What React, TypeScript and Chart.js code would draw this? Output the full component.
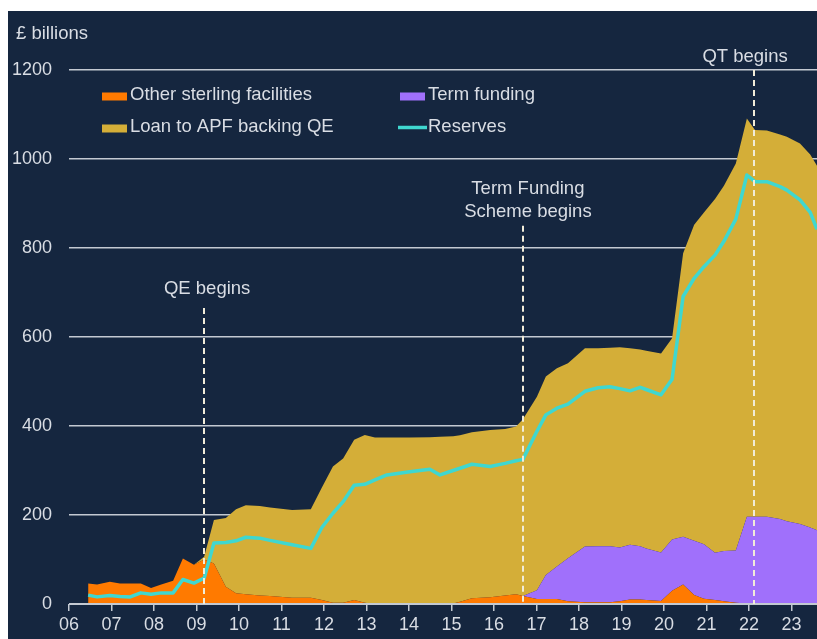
import React, { useEffect, useRef } from 'react';
import { Chart, registerables } from 'chart.js';

Chart.register(...registerables);
Chart.defaults.font.family = '"Liberation Sans", Arial, Helvetica, sans-serif';

// Decimal years of each observation
const DATES = [
  2006.45, 2006.66, 2006.96, 2007.2, 2007.44, 2007.69, 2007.93, 2008.17, 2008.45, 2008.68, 2008.94,
  2009.18, 2009.41, 2009.69, 2009.93, 2010.16, 2010.49, 2010.73, 2011.25, 2011.69, 2011.95,
  2012.21, 2012.45, 2012.71, 2012.96, 2013.2, 2013.48, 2014.02, 2014.49, 2014.73,
  2015.04, 2015.2, 2015.48, 2015.91, 2016.26, 2016.52, 2016.68,
  2017.01, 2017.22, 2017.48, 2017.74, 2018.14, 2018.45, 2018.73, 2018.96,
  2019.2, 2019.44, 2019.58, 2019.93, 2020.19,
  2020.45, 2020.71, 2020.94, 2021.2, 2021.41, 2021.69, 2021.95,
  2022.14, 2022.42, 2022.73, 2022.89, 2023.2, 2023.44, 2023.6,
];

// £ billions
const OTHER_FACILITIES = [
  46, 44, 50, 46, 46, 46, 36, 44, 52, 102, 88,
  100, 91, 39, 24, 22, 19, 18, 14, 14, 9,
  3, 3, 9, 3, 0, 0, 0, 0, 0,
  1, 5, 13, 15, 19, 22, 18,
  11, 11, 11, 6, 4, 4, 4, 6,
  10, 10, 9, 7, 30,
  44, 20, 12, 9, 6, 3, 1,
  0, 0, 0, 0, 0, 0, 0,
];

const TERM_FUNDING = [
  0, 0, 0, 0, 0, 0, 0, 0, 0, 0, 0,
  0, 0, 0, 0, 0, 0, 0, 0, 0, 0,
  0, 0, 0, 0, 0, 0, 0, 0, 0,
  0, 0, 0, 0, 0, 0, 0,
  20, 54, 73, 97, 125, 126, 126, 121,
  123, 120, 116, 109, 115,
  107, 122, 122, 106, 113, 117, 195,
  196, 196, 191, 186, 180, 172, 166,
];

const APF_LOAN = [
  0, 0, 0, 0, 0, 0, 0, 0, 0, 0, 0,
  6, 98, 154, 189, 200, 201, 199, 197, 199, 253,
  306, 324, 360, 377, 374, 374, 374, 375, 376,
  376, 374, 373, 376, 374, 377, 397,
  435, 446, 446, 438, 446, 445, 446, 450,
  442, 442, 444, 447, 452,
  637, 710, 746, 795, 821, 870, 895,
  869, 868, 864, 864, 855, 838, 819,
];

const RESERVES = [
  20, 16, 19, 17, 16, 25, 22, 25, 25, 55, 47,
  58, 137, 138, 142, 150, 148, 143, 133, 125, 172,
  204, 230, 267, 269, 279, 290, 297, 303, 290,
  300, 305, 314, 309, 316, 322, 325,
  388, 425, 440, 449, 478, 486, 488, 484,
  479, 487, 482, 470, 505,
  691, 732, 758, 784, 815, 865, 964,
  949, 949, 938, 930, 908, 880, 842,
];

const TICK_YEARS = [2006, 2007, 2008, 2009, 2010, 2011, 2012, 2013, 2014, 2015, 2016, 2017, 2018, 2019, 2020, 2021, 2022, 2023];
const TICK_LABELS = ['06', '07', '08', '09', '10', '11', '12', '13', '14', '15', '16', '17', '18', '19', '20', '21', '22', '23'];

const SERIES_LABELS = ['Other sterling facilities', 'Term funding', 'Loan to APF backing QE', 'Reserves'];

const EVENT_DATES = [2009.18, 2016.68, 2022.12];
const EVENT_LINE_TOPS = [665, 850, 1200];
const EVENT_LABELS = [['QE begins'], ['Term Funding', 'Scheme begins'], ['QT begins']];

const Y_TITLE = '£ billions';

const BG = '#15263f';
const ORANGE = '#ff7a00';
const PURPLE = '#a070fb';
const GOLD = '#d4ae38';
const CYAN = '#3fd7d0';
const GRID = '#c3c9d2';
const TEXT = '#d9dde4';
const DASH = '#f1ecd9';
const FONT = '"Liberation Sans", Arial, Helvetica, sans-serif';

const overlayPlugin = {
  id: 'overlay',
  afterDatasetsDraw(chart: any) {
    const { ctx, chartArea } = chart;
    const x = chart.scales.x;
    const y = chart.scales.y;
    ctx.save();

    // x axis line on top of areas
    ctx.strokeStyle = GRID;
    ctx.lineWidth = 2;
    ctx.beginPath();
    ctx.moveTo(chartArea.left, y.getPixelForValue(0));
    ctx.lineTo(chartArea.right, y.getPixelForValue(0));
    ctx.stroke();

    // event dashed lines
    ctx.setLineDash([6, 4]);
    ctx.strokeStyle = DASH;
    ctx.lineWidth = 2;
    EVENT_DATES.forEach((d, i) => {
      const px = Math.round(x.getPixelForValue(d));
      ctx.beginPath();
      ctx.moveTo(px, y.getPixelForValue(EVENT_LINE_TOPS[i]));
      ctx.lineTo(px, y.getPixelForValue(0));
      ctx.stroke();
    });
    ctx.setLineDash([]);

    // event labels
    const dxs = [3, 5, -9];
    const dys = [19, 14, 13];
    ctx.font = `18.5px ${FONT}`;
    ctx.fillStyle = TEXT;
    ctx.textAlign = 'center';
    ctx.textBaseline = 'middle';
    EVENT_LABELS.forEach((lines, i) => {
      const px = x.getPixelForValue(EVENT_DATES[i]) + dxs[i];
      const top = y.getPixelForValue(EVENT_LINE_TOPS[i]);
      lines.forEach((t, j) => {
        ctx.fillText(t, px, top - dys[i] - (lines.length - 1 - j) * 23);
      });
    });

    // y title
    ctx.textAlign = 'left';
    ctx.fillText(Y_TITLE, 8, 23);

    // legend
    const colX = [94, 392];
    const rowY = [84, 116];
    const pos = [
      [0, 0],
      [1, 0],
      [0, 1],
      [1, 1],
    ];
    chart.data.datasets.forEach((ds: any, i: number) => {
      const cx = colX[pos[i][0]];
      const cy = rowY[pos[i][1]];
      if (i === 3) {
        ctx.strokeStyle = ds.borderColor;
        ctx.lineWidth = 3.5;
        ctx.beginPath();
        ctx.moveTo(cx - 2, cy + 0.5);
        ctx.lineTo(cx + 27, cy + 0.5);
        ctx.stroke();
      } else {
        ctx.fillStyle = ds.backgroundColor;
        ctx.fillRect(cx, cy - 2.5, 25, 8);
      }
      ctx.fillStyle = TEXT;
      ctx.fillText(ds.label, cx + 28, cy);
    });

    ctx.restore();
  },
};

export default function App() {
  const ref = useRef<HTMLCanvasElement | null>(null);

  useEffect(() => {
    if (!ref.current) return;
    const toPoints = (arr: number[]) => DATES.map((d, i) => ({ x: d, y: arr[i] }));
    const area = {
      pointRadius: 0,
      borderWidth: 0,
      borderColor: 'transparent',
      tension: 0,
      order: 1,
    };
    const chart = new Chart(ref.current, {
      type: 'line',
      data: {
        datasets: [
          { ...area, label: SERIES_LABELS[0], data: toPoints(OTHER_FACILITIES), backgroundColor: ORANGE, fill: 'origin' },
          { ...area, label: SERIES_LABELS[1], data: toPoints(TERM_FUNDING), backgroundColor: PURPLE, fill: '-1' },
          { ...area, label: SERIES_LABELS[2], data: toPoints(APF_LOAN), backgroundColor: GOLD, fill: '-1' },
          {
            label: SERIES_LABELS[3],
            data: toPoints(RESERVES),
            borderColor: CYAN,
            backgroundColor: CYAN,
            borderWidth: 3.5,
            pointRadius: 0,
            fill: false,
            stack: 'reserves',
            order: 0,
            tension: 0,
            borderJoinStyle: 'round',
          } as any,
        ],
      },
      options: {
        responsive: false,
        animation: false,
        layout: { padding: { top: 59, left: 0, right: 0, bottom: 0 } },
        plugins: { legend: { display: false }, tooltip: { enabled: false } },
        scales: {
          x: {
            type: 'linear',
            min: 2006,
            max: 2023.6,
            afterBuildTicks: (s: any) => {
              s.ticks = TICK_YEARS.map((v) => ({ value: v }));
            },
            afterFit: (s: any) => {
              s.height = 35;
            },
            ticks: {
              autoSkip: false,
              maxRotation: 0,
              padding: 3,
              color: TEXT,
              font: { size: 18 },
              callback: (v: any) => {
                const k = TICK_YEARS.indexOf(Number(v));
                return k >= 0 ? TICK_LABELS[k] : '';
              },
            },
            grid: { drawOnChartArea: false, drawTicks: true, tickLength: 7, color: GRID, lineWidth: 1.5 },
            border: { display: false },
          },
          y: {
            stacked: true,
            min: 0,
            max: 1200,
            afterFit: (s: any) => {
              s.width = 61;
            },
            ticks: {
              stepSize: 200,
              padding: 17,
              color: TEXT,
              font: { size: 18 },
              callback: (v: any) => String(v),
            },
            grid: { color: GRID, lineWidth: 1.5, drawTicks: false },
            border: { display: false },
          },
        },
      },
      plugins: [overlayPlugin],
    } as any);
    return () => chart.destroy();
  }, []);

  return (
    <div style={{ position: 'fixed', left: 8, top: 11, width: 809, height: 628, background: BG }}>
      <canvas ref={ref} width={809} height={628} style={{ display: 'block' }} />
    </div>
  );
}
